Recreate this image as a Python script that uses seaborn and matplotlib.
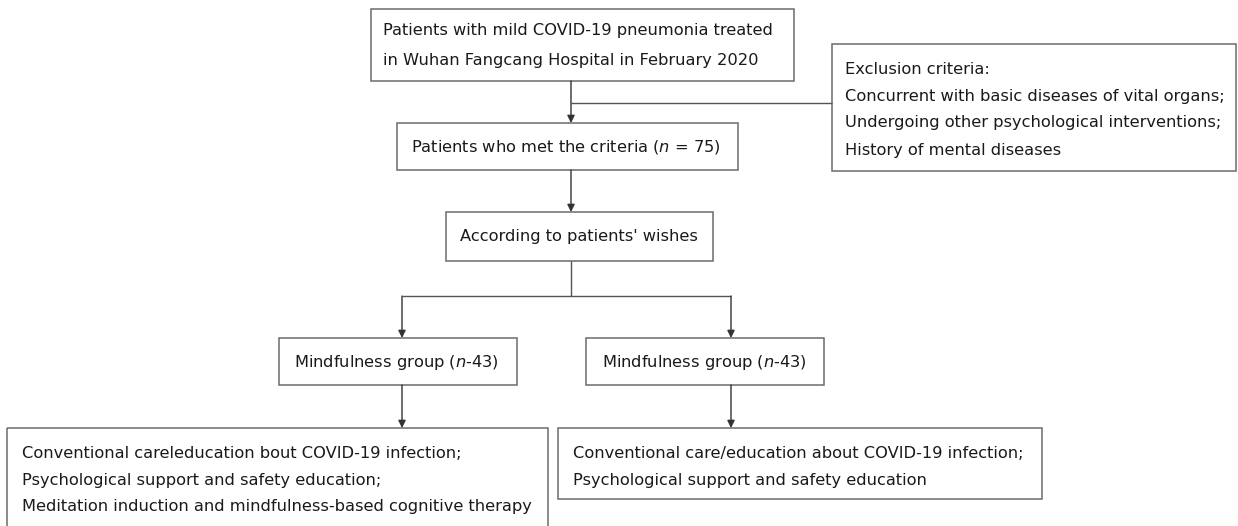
import matplotlib
matplotlib.use("Agg")
import matplotlib.pyplot as plt
from matplotlib.patches import Rectangle
import seaborn as sns

# Flowchart text (content)
top_lines = ["Patients with mild COVID-19 pneumonia treated",
             "in Wuhan Fangcang Hospital in February 2020"]
excl_lines = ["Exclusion criteria:",
              "Concurrent with basic diseases of vital organs;",
              "Undergoing other psychological interventions;",
              "History of mental diseases"]
met_lines = ["Patients who met the criteria ($n$ = 75)"]
wish_lines = ["According to patients' wishes"]
left_group = ["Mindfulness group ($n$-43)"]
right_group = ["Mindfulness group ($n$-43)"]
left_care = ["Conventional careleducation bout COVID-19 infection;",
             "Psychological support and safety education;",
             "Meditation induction and mindfulness-based cognitive therapy"]
right_care = ["Conventional care/education about COVID-19 infection;",
              "Psychological support and safety education"]

# layout in pixel units: box (x0, y0, x1, y1), text left x, first line y, line step
layout = {
    "top":   ((371, 9, 794, 81), 383, 31, 29),
    "excl":  ((832, 44, 1236, 171), 845, 69, 27),
    "met":   ((397, 123, 738, 170), 411, 147, 27),
    "wish":  ((446, 212, 713, 261), 460, 237, 27),
    "lgrp":  ((279, 338, 517, 385), 294, 362, 27),
    "rgrp":  ((586, 338, 824, 385), 602, 362, 27),
    "lcare": ((7, 428, 548, 540), 22, 453, 27),
    "rcare": ((558, 428, 1042, 499), 573, 453, 27),
}
texts = {"top": top_lines, "excl": excl_lines, "met": met_lines, "wish": wish_lines,
         "lgrp": left_group, "rgrp": right_group, "lcare": left_care, "rcare": right_care}

sns.set_theme(style="white")
plt.rcParams['font.family'] = ['DejaVu Sans']
plt.rcParams['mathtext.fontset'] = 'dejavusans'

fig = plt.figure(figsize=(12.38, 5.26), dpi=100)
ax = fig.add_axes([0, 0, 1, 1])
ax.set_xlim(0, 1238)
ax.set_ylim(526, 0)
ax.axis('off')

edge = '#6b6b6b'
ink = '#1a1a1a'
line_c = '#555555'

for key, ((x0, y0, x1, y1), tx, ty, step) in layout.items():
    ax.add_patch(Rectangle((x0, y0), x1 - x0, y1 - y0, fill=False,
                           edgecolor=edge, linewidth=1.1))
    for i, s in enumerate(texts[key]):
        ax.text(tx, ty + i * step, s, ha='left', va='center',
                fontsize=11.7, color=ink)


def arrow(x, y0, y1):
    ax.annotate("", xy=(x, y1), xytext=(x, y0),
                arrowprops=dict(arrowstyle='-|>', color='#333333', lw=1,
                                mutation_scale=11, shrinkA=0, shrinkB=0))


def seg(xs, ys):
    ax.plot(xs, ys, color=line_c, lw=1, solid_capstyle='butt')


arrow(571, 81, 123)
seg([571, 832], [103, 103])
arrow(571, 170, 212)
seg([571, 571], [261, 296])
seg([402, 731], [296, 296])
arrow(402, 296, 338)
arrow(731, 296, 338)
arrow(402, 385, 428)
arrow(731, 385, 428)

fig.savefig("out.png", dpi=100, facecolor='white')
